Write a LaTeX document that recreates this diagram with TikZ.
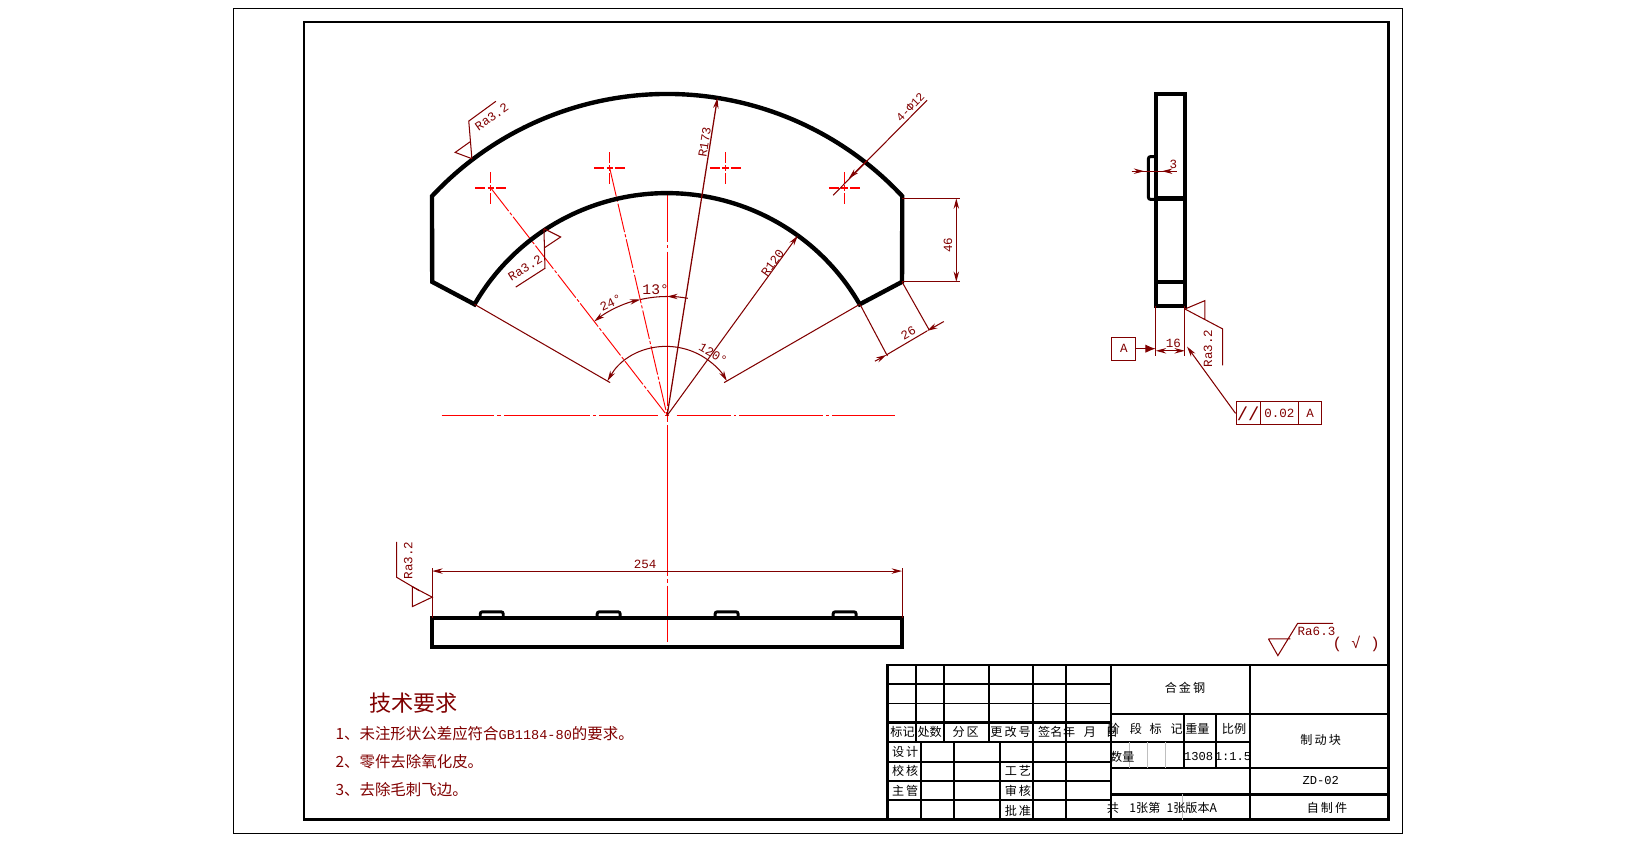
\documentclass[tikz,border=0pt]{standalone}
\usepackage{fontspec}
\setmainfont{Liberation Mono}
\newfontfamily\cjk{Noto Sans CJK SC}
\usetikzlibrary{arrows.meta, positioning, calc}
\definecolor{dimred}{RGB}{128,0,0}

\begin{document}
\begin{tikzpicture}[
    x=0.5pt, y=-0.5pt,
    part/.style={draw=black, line width=2.1pt, line join=miter},
    boss/.style={draw=black, line width=1.4pt, rounded corners=1pt},
    frameline/.style={draw=black, line width=1.2pt},
    tbthick/.style={draw=black, line width=1.05pt},
    tbthin/.style={draw=black, line width=0.7pt},
    tbgray/.style={draw=black!25, line width=0.5pt},
    dimline/.style={draw=dimred, line width=0.5pt, >={Stealth[length=5pt,width=2.6pt]}},
    redline/.style={draw=red, line width=0.6pt},
    chainline/.style={draw=red, line width=0.45pt, dash pattern=on 14pt off 1pt on 1.5pt off 1pt},
    dimtext/.style={text=dimred, font=\fontsize{6}{7}\selectfont, inner sep=0pt},
    tolbox/.style={draw=dimred, line width=0.5pt, text=dimred, font=\fontsize{6}{7}\selectfont, minimum height=11pt, inner sep=0pt},
    tblabel/.style={font=\cjk\fontsize{5.8}{7}\selectfont, inner sep=0pt},
    tbvalue/.style={font=\fontsize{5.8}{7}\selectfont, inner sep=0pt},
    note/.style={text=dimred, font=\cjk\fontsize{7.4}{8}\selectfont, anchor=west, inner sep=0pt}
]
    \useasboundingbox (0,0) rectangle (1568,806.6);
    \coordinate (org) at (639,398);

    % --- Sheet Frames ---
    \draw[draw=black, line width=0.5pt] (224,8) rectangle (1343,798);
    \draw[frameline] (291,21) rectangle (1330,785);

    % --- Center Lines ---
    \draw[redline] (423,398) -- (473,398) (476,398) -- (480,398) (483,398) -- (565,398)
        (568,398) -- (571,398) (574,398) -- (630,398) (637,398) -- (641,398)
        (648,398) -- (700,398) (703,398) -- (705,398) (708,398) -- (788,398)
        (791,398) -- (794,398) (797,398) -- (857,398);
    \draw[redline] (639,185) -- (639,232) (639,235) -- (639,238) (639,241) -- (639,389)
        (639,392) -- (639,404) (639,407) -- (639,552) (639,555) -- (639,558) (639,561) -- (639,615);
    \draw[chainline] (470,180) -- (org);
    \draw[chainline] (584,161) -- (org);
    \foreach \hx/\hy in {470/180, 584/161, 695/161, 809/180} {
        \draw[redline] (\hx-15,\hy) -- (\hx-5,\hy) (\hx-3,\hy) -- (\hx+3,\hy) (\hx+5,\hy) -- (\hx+15,\hy)
            (\hx,\hy-15) -- (\hx,\hy-5) (\hx,\hy-3) -- (\hx,\hy+3) (\hx,\hy+5) -- (\hx,\hy+15);
    }

    % --- Front View ---
    \draw[part] ($(org)+(-137:308)$) arc[start angle=-137, end angle=-43, radius=308]
        -- (864,270) -- ($(org)+(-30:213)$) arc[start angle=-30, end angle=-150, radius=213]
        -- (414,270) -- cycle;

    % --- Front View Dimensions ---
    \draw[dimline] ($(org)+(-150:213)$) -- ($(org)+(-150:63)$);
    \draw[dimline] ($(org)+(-30:213)$) -- ($(org)+(-30:63)$);
    \draw[dimline, <->] ($(org)+(-150:66)$) arc[start angle=-150, end angle=-30, radius=66];
    \node[dimtext, rotate=-30] (angle-total) at (683,339) {120°};
    \draw[dimline, <->] ($(org)+(-103:114)$) arc[start angle=-103, end angle=-127.8, radius=114];
    \draw[dimline] ($(org)+(-103:114)$) arc[start angle=-103, end angle=-90, radius=114];
    \draw[dimline, ->] ($(org)+(-80:114)$) arc[start angle=-80, end angle=-90, radius=114];
    \node[dimtext, font=\fontsize{7}{8}\selectfont] (angle-thirteen) at (628,277) {13°};
    \node[dimtext, rotate=25] (angle-twentyfour) at (585,290) {24°};
    \draw[dimline, line width=0.6pt, ->] (org) -- ($(org)+(-81:308)$);
    \node[dimtext, rotate=81] (rad-outer) at (675,136) {R173};
    \draw[dimline, ->] (org) -- ($(org)+(-54:213)$);
    \node[dimtext, rotate=54] (rad-inner) at (740,252) {R120};
    \draw[dimline] (864,190) -- (920,190) (864,270) -- (920,270);
    \draw[dimline, <->] (916,190) -- (916,270);
    \node[dimtext, rotate=90] (width-side) at (908,235) {46};
    \draw[dimline] (824,292) -- (850,341) (864,270) -- (890,316);
    \draw[dimline, ->] (838,346) -- (849,340);
    \draw[dimline, ->] (904,308) -- (888,317);
    \draw[dimline] (849,340) -- (888,317);
    \node[dimtext, rotate=30] (width-end) at (870,319) {26};
    \draw[dimline] (798,187) -- (888,96);
    \draw[dimline, ->] (830,154) -- (813,171);
    \node[dimtext, font=\fontsize{5.6}{6}\selectfont, rotate=46] (holes) at (872,103) {4-Φ12};

    % --- Roughness Marks ---
    \draw[dimline] (452,152) -- (449,116) -- (475,97) (452,152) -- (436,146) -- (450,136);
    \node[dimtext, rotate=35] (rough-outer) at (471,112) {Ra3.2};
    \draw[dimline] (521,219) -- (522,257) -- (494,275) (521,219) -- (537,227) -- (522,237);
    \node[dimtext, rotate=32] (rough-inner) at (503,257) {Ra3.2};

    % --- Side View ---
    \draw[part] (1107,90) rectangle (1135,293);
    \draw[part] (1107,190) -- (1135,190) (1107,270) -- (1135,270);
    \draw[boss] (1107,150) -- (1100,150) -- (1100,191) -- (1107,191);
    \draw[dimline] (1084,164) -- (1127,164);
    \draw[dimline, ->] (1084,164) -- (1096,164);
    \draw[dimline, ->] (1127,164) -- (1113,164);
    \node[dimtext] (step-height) at (1124,157) {3};
    \draw[dimline] (1107,293) -- (1107,341) (1135,293) -- (1135,341);
    \draw[dimline, <->] (1107,336) -- (1135,336);
    \node[dimtext] (thickness) at (1124,329) {16};
    \node[tolbox, minimum width=11.5pt] (datum) at (1076.5,334) {A};
    \draw[dimline, -{Latex[length=5pt,width=4pt]}] (datum) -- (1107,334);
    \draw[dimline] (1135,296) -- (1154,288) -- (1154,306) (1135,296) -- (1171,315) -- (1171,350);
    \node[dimtext, rotate=90] (rough-side) at (1157,334) {Ra3.2};
    \node[tolbox, minimum width=11.5pt, font=\fontsize{9}{9}\selectfont] (tol-sym) at (1195.5,396) {//};
    \node[tolbox, minimum width=18.5pt, right=-0.5pt of tol-sym] (tol-value) {0.02};
    \node[tolbox, minimum width=11pt, right=-0.5pt of tol-value] (tol-datum) {A};
    \draw[dimline, ->] (tol-sym.west) -- (1137,332);

    % --- Bottom View ---
    \draw[part] (414,592) rectangle (864,620);
    \foreach \bx in {460, 572, 685, 798} {
        \draw[boss] (\bx,592) -- (\bx,586) -- (\bx+22,586) -- (\bx+22,592);
    }
    \draw[dimline] (414,592) -- (414,544) (864,592) -- (864,544);
    \draw[dimline, <->] (414,547) -- (864,547);
    \node[dimtext] (length) at (618,541) {254};
    \draw[dimline] (414,572) -- (395,562) -- (395,581) -- cycle;
    \draw[dimline] (402,566) -- (380,553) -- (380,519);
    \node[dimtext, rotate=90] (rough-bottom) at (391,537) {Ra3.2};

    % --- General Roughness ---
    \draw[dimline] (1215,612) -- (1236,612) (1215,612) -- (1224,628) -- (1243,597) -- (1277,597);
    \node[dimtext] (rough-all) at (1261,605) {Ra6.3};
    \node[dimtext, font=\fontsize{7.5}{8}\selectfont] (rough-rest) at (1299,617) {( √ )};

    % --- Technical Notes ---
    \node[text=dimred, font=\cjk\fontsize{10.6}{12}\selectfont, inner sep=0pt] (notes-title) at (396,673) {技术要求};
    \node[note] (note-one) at (321,703) {1、未注形状公差应符合{\rmfamily\fontsize{6.5}{8}\selectfont GB1184-80}的要求。};
    \node[note] (note-two) at (321,730) {2、零件去除氧化皮。};
    \node[note] (note-three) at (321,756) {3、去除毛刺飞边。};

    % --- Title Block Grid ---
    \draw[tbthick] (850,637) rectangle (1330,785);
    \draw[tbthin] (850,655) -- (1064,655) (850,674) -- (1064,674);
    \draw[tbthick] (850,692) -- (1064,692) (850,711) -- (1064,711);
    \draw[tbthin] (850,730) -- (1064,730);
    \draw[tbthick] (850,748) -- (1064,748) (850,766) -- (1064,766);
    \foreach \gx in {877, 904, 947, 989.5, 1021} {
        \draw[tbthick] (\gx,637) -- (\gx,711);
    }
    \foreach \gx in {882.5, 914, 958, 989.5, 1021} {
        \draw[tbthick] (\gx,711) -- (\gx,785);
    }
    \draw[tbthick] (1064,637) -- (1064,785) (1197,637) -- (1197,785);
    \draw[tbthick] (1064,684) -- (1330,684) (1064,736) -- (1330,736) (1064,761) -- (1330,761);
    \draw[tbthick] (1064,711) -- (1197,711) (1134,684) -- (1134,736) (1165,684) -- (1165,736);
    \foreach \gx in {1082, 1099, 1116.5} {
        \draw[tbgray] (\gx,711) -- (\gx,736);
    }
    \draw[tbgray] (1133,761) -- (1133,785);

    % --- Title Block Labels ---
    \foreach \lx/\ly/\ltext [count=\li] in {
        864.5/701/标记, 890.5/701/处数, 925/701/分\,区, 968/701/更\,改\,号, 1006/701/签名,
        1024/701/年, 1044/701/月, 1065/701/日, 867/720/设\,计, 867/738/校\,核, 867/758/主\,管,
        975/738/工\,艺, 975/758/审\,核, 975/777/批\,准, 1135/659/合\,金\,钢, 1067/698/阶, 1088/698/段,
        1107/698/标, 1127/698/记, 1147/698/重量, 1182/698/比例, 1075/725/数量, 1265/709/制\,动\,块,
        1271/774/自\,制\,件} {
        \node[tblabel] (lbl-\li) at (\lx,\ly) {\ltext};
    }
    \node[tbvalue] (weight) at (1148,725) {1308};
    \node[tbvalue] (scale) at (1181,725) {1:1.5};
    \node[tbvalue] (drawing-no) at (1265,748) {ZD-02};
    \node[tblabel] (sheets) at (1113,774) {共\hspace{5pt}1张第\hspace{3pt}1张版本A};
\end{tikzpicture}
\end{document}
